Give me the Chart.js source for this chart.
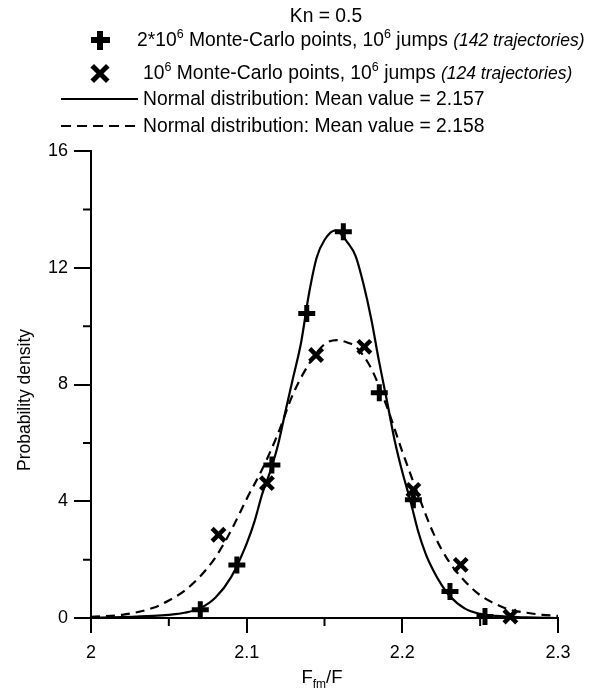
<!DOCTYPE html>
<html>
<head>
<meta charset="utf-8">
<script src="https://cdn.jsdelivr.net/npm/chart.js@4.4.1/dist/chart.umd.min.js"></script>
<style>
  html, body { margin: 0; padding: 0; background: #fff; }
  #wrap { position: relative; width: 594px; height: 690px; font-family: "Liberation Sans", Arial, sans-serif; color: #000; }
  #c { position: absolute; left: 0; top: 0; }
  .txt { position: absolute; font-size: 19.3px; line-height: 22px; white-space: nowrap; }
  .sup { font-size: 12.5px; vertical-align: 8px; line-height: 0; }
  .note { font-style: italic; font-size: 17.5px; }
  .sym { position: absolute; width: 19px; height: 19px; }
  .sym::before, .sym::after { content: ""; position: absolute; background: #000; }
  .plus::before { left: 0; top: 6.75px; width: 19px; height: 5.5px; }
  .plus::after { left: 6.75px; top: 0; width: 5.5px; height: 19px; }
  .cross::before, .cross::after { left: -1.5px; top: 7px; width: 22px; height: 5px; }
  .cross::before { transform: rotate(45deg); }
  .cross::after { transform: rotate(-45deg); }
  .ln { position: absolute; height: 2px; width: 77px; }
</style>
</head>
<body>
<div id="wrap">
  <canvas id="c" width="594" height="690"></canvas>

  <div class="txt" style="left:326px; top:4.7px; transform:translateX(-50%);">Kn = 0.5</div>

  <div class="sym plus" style="left:90.5px; top:30.5px;"></div>
  <div class="txt" style="left:137px; top:29.2px;">2*10<span class="sup">6</span> Monte-Carlo points, 10<span class="sup">6</span> jumps <span class="note">(142 trajectories)</span></div>

  <div class="sym cross" style="left:90px; top:63.5px;"></div>
  <div class="txt" style="left:143px; top:61.7px;">10<span class="sup">6</span> Monte-Carlo points, 10<span class="sup">6</span> jumps <span class="note">(124 trajectories)</span></div>

  <div class="ln" style="left:61px; top:98px; background:#000;"></div>
  <div class="txt" style="left:143px; top:88.2px;">Normal distribution: Mean value = 2.157</div>

  <div class="ln" style="left:61px; top:125px; background:repeating-linear-gradient(to right,#000 0 10px,transparent 10px 16px);"></div>
  <div class="txt" style="left:143px; top:115.2px;">Normal distribution: Mean value = 2.158</div>

  <div class="txt" style="left:24px; top:400px; font-size:17.5px; transform:translate(-50%,-50%) rotate(-90deg);">Probability density</div>
  <div class="txt" style="left:322px; top:666.4px; font-size:18.5px; transform:translateX(-50%);">F<span style="font-size:12px; vertical-align:-5px;">fm</span>/F</div>
</div>

<script>
// Monte-Carlo points, 2*10^6 points (plus markers)
const plusX = [2.0702, 2.0937, 2.1162, 2.1386, 2.1621, 2.1852, 2.2071, 2.2306, 2.2531];
const plusY = [0.28, 1.82, 5.24, 10.43, 13.23, 7.72, 4.05, 0.91, 0.05];

// Monte-Carlo points, 10^6 points (x markers)
const crossX = [2.0819, 2.1130, 2.1446, 2.1756, 2.2071, 2.2375, 2.2694];
const crossY = [2.85, 4.62, 9.01, 9.29, 4.39, 1.82, 0.05];

// normal curve, mean 2.157 (solid)
const solidX = [2.00, 2.02, 2.04, 2.05, 2.06, 2.07, 2.08, 2.09, 2.10, 2.105, 2.11, 2.115, 2.12, 2.125, 2.13, 2.135, 2.14, 2.145, 2.15, 2.157, 2.165, 2.17, 2.175, 2.18, 2.185, 2.19, 2.195, 2.20, 2.205, 2.21, 2.215, 2.22, 2.225, 2.23, 2.24, 2.25, 2.26, 2.28, 2.30];
const solidY = [0.01, 0.03, 0.07, 0.11, 0.18, 0.33, 0.70, 1.40, 2.55, 3.30, 4.25, 5.00, 5.90, 7.10, 8.27, 9.45, 11.10, 12.35, 12.95, 13.28, 12.85, 12.40, 11.45, 10.25, 8.80, 7.47, 6.10, 5.00, 4.05, 3.00, 2.20, 1.62, 1.15, 0.78, 0.33, 0.14, 0.07, 0.02, 0.00];

// normal curve, mean 2.158 (dashed)
const dashX = [2.00, 2.02, 2.04, 2.05, 2.06, 2.07, 2.08, 2.09, 2.10, 2.11, 2.12, 2.13, 2.14, 2.15, 2.158, 2.165, 2.17, 2.18, 2.19, 2.20, 2.21, 2.22, 2.23, 2.24, 2.25, 2.26, 2.27, 2.28, 2.29, 2.30];
const dashY = [0.04, 0.11, 0.35, 0.60, 0.93, 1.42, 2.08, 3.00, 4.08, 5.10, 6.30, 7.70, 8.70, 9.38, 9.52, 9.43, 9.30, 8.55, 7.25, 5.70, 4.25, 2.90, 1.93, 1.27, 0.78, 0.48, 0.27, 0.18, 0.11, 0.07];

// axis ticks
const xTicks = [2, 2.1, 2.2, 2.3];
const xMinor = [2.05, 2.15, 2.25];
const yTicks = [0, 4, 8, 12, 16];
const yMinor = [2, 6, 10, 14];

const pts = (xs, ys) => xs.map((x, i) => ({ x: x, y: ys[i] }));
const FONT = { family: '"Liberation Sans", Arial, sans-serif', size: 18 };

// short ticks between the labelled ones
const minorTicks = {
  id: "minorTicks",
  afterDraw(chart) {
    const { ctx, chartArea } = chart;
    const x = chart.scales.x, y = chart.scales.y;
    ctx.save();
    ctx.strokeStyle = "#000";
    ctx.lineWidth = 2;
    ctx.beginPath();
    xMinor.forEach(v => {
      const px = x.getPixelForValue(v);
      ctx.moveTo(px, chartArea.bottom);
      ctx.lineTo(px, chartArea.bottom + 8);
    });
    yMinor.forEach(v => {
      const py = y.getPixelForValue(v);
      ctx.moveTo(chartArea.left, py);
      ctx.lineTo(chartArea.left - 8, py);
    });
    ctx.stroke();
    ctx.restore();
  }
};

new Chart(document.getElementById("c"), {
  type: "scatter",
  data: {
    datasets: [
      {
        data: pts(plusX, plusY),
        pointStyle: "cross",
        pointRadius: 8.5,
        pointBorderWidth: 5,
        borderColor: "#000",
        backgroundColor: "#000",
        clip: false,
        order: 0
      },
      {
        data: pts(crossX, crossY),
        pointStyle: "crossRot",
        pointRadius: 9,
        pointBorderWidth: 4.5,
        borderColor: "#000",
        backgroundColor: "#000",
        clip: false,
        order: 0
      },
      {
        type: "line",
        data: pts(solidX, solidY),
        showLine: true,
        borderColor: "#000",
        borderWidth: 2.2,
        pointRadius: 0,
        cubicInterpolationMode: "monotone",
        fill: false,
        order: 1
      },
      {
        type: "line",
        data: pts(dashX, dashY),
        showLine: true,
        borderColor: "#000",
        borderWidth: 2.2,
        borderDash: [9, 6],
        pointRadius: 0,
        cubicInterpolationMode: "monotone",
        fill: false,
        order: 1
      }
    ]
  },
  options: {
    responsive: false,
    animation: false,
    devicePixelRatio: 1,
    layout: { padding: { top: 151, right: 36, left: 0, bottom: 0 } },
    plugins: {
      legend: { display: false },
      tooltip: { enabled: false }
    },
    scales: {
      x: {
        type: "linear",
        min: 2,
        max: 2.3,
        afterBuildTicks: s => { s.ticks = xTicks.map(v => ({ value: v })); },
        afterFit: s => { s.height = 72; },
        ticks: {
          color: "#000",
          font: FONT,
          padding: 9,
          maxRotation: 0,
          callback: v => String(Math.round(v * 10) / 10)
        },
        grid: { drawOnChartArea: false, color: "#000", lineWidth: 2, tickLength: 15 },
        border: { color: "#000", width: 2 }
      },
      y: {
        type: "linear",
        min: 0,
        max: 16,
        afterBuildTicks: s => { s.ticks = yTicks.map(v => ({ value: v })); },
        afterFit: s => { s.width = 91; },
        ticks: { color: "#000", font: FONT, padding: 6 },
        grid: { drawOnChartArea: false, color: "#000", lineWidth: 2, tickLength: 17 },
        border: { color: "#000", width: 2 }
      }
    }
  },
  plugins: [minorTicks]
});
</script>
</body>
</html>
